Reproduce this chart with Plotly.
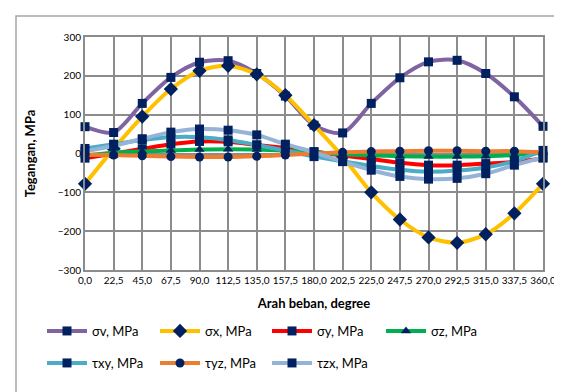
import plotly.graph_objects as go

angles = ["0,0", "22,5", "45,0", "67,5", "90,0", "112,5", "135,0", "157,5", "180,0",
          "202,5", "225,0", "247,5", "270,0", "292,5", "315,0", "337,5", "360,0"]

sigma_v = [69, 54, 129, 196, 235, 239, 206, 148, 73, 53, 129, 195, 236, 240, 206, 146, 70]
sigma_x = [-78, 12, 95, 166, 213, 226, 204, 150, 73, -8, -100, -170, -216, -230, -208, -154, -78]
sigma_y = [-12, 0, 12, 24, 31, 30, 22, 14, 5, -5, -14, -24, -30, -30, -26, -22, -12]
sigma_z = [-5, 2, 5, 8, 10, 11, 10, 7, 3, -2, -5, -7, -8, -8, -7, -4, 2]
tau_xy = [13, 24, 35, 42, 42, 35, 22, 8, -8, -20, -32, -42, -47, -44, -36, -20, 8]
tau_yz = [-3, -4, -6, -8, -9, -9, -7, -4, 0, 3, 5, 6, 7, 7, 6, 6, 3]
tau_zx = [6, 20, 38, 55, 63, 60, 48, 24, 3, -21, -43, -59, -66, -64, -52, -30, -10]

y_ticks = [-300, -200, -100, 0, 100, 200, 300]

series = [
    ("σv, MPa", sigma_v, "#8064A2", "square", 9),
    ("σx, MPa", sigma_x, "#FFC000", "diamond", 11),
    ("σy, MPa", sigma_y, "#FF0000", "square", 9),
    ("σz, MPa", sigma_z, "#00B050", "triangle-up", 9),
    ("τxy, MPa", tau_xy, "#4BACC6", "square", 9),
    ("τyz, MPa", tau_yz, "#ED7D31", "circle", 9),
    ("τzx, MPa", tau_zx, "#95B3D7", "square", 9),
]

# legend entry positions (px from left, px from top)
legend_pos = [(34, 308), (147, 308), (259, 308), (373, 308),
              (34, 340), (147, 340), (259, 340)]

navy = "#002060"
fig = go.Figure()
legend_layout = {}
for i, (name, vals, col, sym, sz) in enumerate(series):
    lg = "legend" if i == 0 else f"legend{i + 1}"
    fig.add_trace(go.Scatter(
        x=list(range(len(angles))), y=vals, name=name, mode="lines+markers",
        line=dict(color=col, width=4, shape="spline", smoothing=0.8),
        marker=dict(symbol=sym, size=sz, color=navy, line=dict(width=0)),
        cliponaxis=False, legend=lg,
    ))
    px, py = legend_pos[i]
    legend_layout[lg] = dict(orientation="h", xref="container", yref="container",
                             x=px / 562, y=1 - py / 392,
                             xanchor="left", yanchor="top", font=dict(size=13),
                             itemwidth=40, bgcolor="rgba(0,0,0,0)")

grid = "#8C8C8C"
fig.update_layout(
    width=562, height=392,
    margin=dict(l=77, r=27, t=29, b=130, autoexpand=False),
    paper_bgcolor="white", plot_bgcolor="white",
    font=dict(family="Lato, Open Sans, sans-serif", size=10, color="#000000"),
    showlegend=True,
    xaxis=dict(
        tickmode="array", tickvals=list(range(len(angles))), ticktext=angles,
        range=[0, len(angles) - 1], showgrid=True, gridcolor=grid, gridwidth=2,
        showline=True, linecolor=grid, linewidth=2, mirror=True, zeroline=False,
        ticks="", tickfont=dict(size=10), automargin=False,
        title=dict(text="<b>Arah beban, degree</b>", font=dict(size=13), standoff=14),
    ),
    yaxis=dict(
        tickmode="array", tickvals=y_ticks, range=[-300, 300],
        showgrid=True, gridcolor=grid, gridwidth=2, zeroline=False,
        showline=True, linecolor=grid, linewidth=2, mirror=True,
        ticks="", tickfont=dict(size=10), automargin=False,
        title=dict(text="<b>Tegangan, MPa</b>", font=dict(size=13), standoff=19),
    ),
    shapes=[dict(type="rect", xref="paper", yref="paper",
                 x0=(8 - 77) / 458, x1=(560 - 77) / 458,
                 y0=(262 - 389) / 233, y1=(262 - 8) / 233,
                 line=dict(color="#A6A6A6", width=1.5), fillcolor="rgba(0,0,0,0)",
                 layer="below")],
    **legend_layout,
)

fig.write_html("out.html")
